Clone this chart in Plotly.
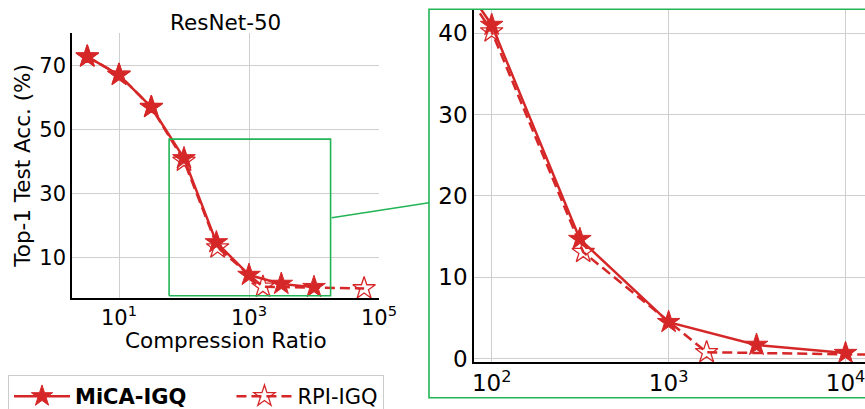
import plotly.graph_objects as go

# ---- data ----
mica_x = [3.25, 10, 31.4, 100, 315, 1000, 3140, 10000]
mica_y = [72.8, 67.1, 57.0, 41.0, 14.7, 4.5, 1.7, 0.7]
rpi_x = [3.25, 10, 31.4, 100, 329, 1640, 59000]
rpi_y = [72.8, 67.1, 57.0, 40.2, 13.1, 0.8, 0.3]

left_xticks = [10, 1000, 100000]
left_xtext = ["10<sup>1</sup>", "10<sup>3</sup>", "10<sup>5</sup>"]
left_yticks = [10, 30, 50, 70]
right_xticks = [100, 1000, 10000]
right_xtext = ["10<sup>2</sup>", "10<sup>3</sup>", "10<sup>4</sup>"]
right_yticks = [0, 10, 20, 30, 40]

zoom_box_x = [59, 18000, 18000, 59, 59]
zoom_box_y = [-2, -2, 47, 47, -2]

RED = "#d62728"
GREEN = "#22b455"
GRID = "#cfcfcf"
FONT = "DejaVu Sans"
W, H = 865, 409
NBSP = "\u00a0"

fig = go.Figure()

for xa, ya, show in [("x", "y", True), ("x2", "y2", False)]:
    fig.add_trace(go.Scatter(
        x=rpi_x, y=rpi_y, mode="lines+markers", name="RPI-IGQ",
        line=dict(color=RED, width=2.5, dash="10px,5px"),
        marker=dict(symbol="star-open", size=17, color=RED, line=dict(width=1.3, color=RED)),
        xaxis=xa, yaxis=ya, showlegend=show, legendrank=2))
    fig.add_trace(go.Scatter(
        x=mica_x, y=mica_y, mode="lines+markers", name="<b>MiCA-IGQ</b>" + NBSP * 6,
        line=dict(color=RED, width=2.5),
        marker=dict(symbol="star", size=17, color=RED, line=dict(width=1, color=RED)),
        xaxis=xa, yaxis=ya, showlegend=show, legendrank=1))

# zoom rectangle on the main axes
fig.add_trace(go.Scatter(
    x=zoom_box_x, y=zoom_box_y, mode="lines", line=dict(color=GREEN, width=1.6),
    xaxis="x", yaxis="y", showlegend=False, hoverinfo="skip"))

def px_x(p):
    return p / W

def px_y(p):
    return 1 - p / H

axis_common = dict(showline=True, linecolor="black", linewidth=1.5, mirror=False,
                   showgrid=True, gridcolor=GRID, gridwidth=1.2, zeroline=False,
                   ticks="", ticklabeloverflow="allow",
                   tickfont=dict(family=FONT, size=21, color="black"))
right_font = dict(family=FONT, size=23, color="black")

fig.update_layout(
    width=W, height=H,
    margin=dict(l=0, r=0, t=0, b=0, autoexpand=False),
    paper_bgcolor="white", plot_bgcolor="white",
    font=dict(family=FONT, color="black"),
    xaxis=dict(type="log", domain=[px_x(72), px_x(379)], range=[0.277, 5.0],
               tickmode="array", tickvals=left_xticks, ticktext=left_xtext,
               anchor="y", **axis_common),
    yaxis=dict(domain=[px_y(298), px_y(33)], range=[-2.7, 80.2],
               tickmode="array", tickvals=left_yticks, anchor="x", **axis_common),
    xaxis2=dict(type="log", domain=[px_x(474), 1.0], range=[1.9, 4.11],
                tickmode="array", tickvals=right_xticks, ticktext=right_xtext,
                anchor="y2", **{**axis_common, "tickfont": right_font}),
    yaxis2=dict(domain=[px_y(362), px_y(9.5)], range=[-0.4, 42.9],
                tickmode="array", tickvals=right_yticks, anchor="x2",
                **{**axis_common, "tickfont": right_font}),
    legend=dict(orientation="h", x=px_x(8), y=px_y(375), xanchor="left", yanchor="top",
                bordercolor="#cccccc", borderwidth=1, bgcolor="white",
                font=dict(family=FONT, size=21, color="black"),
                itemwidth=56),
    showlegend=True,
    shapes=[
        dict(type="rect", xref="paper", yref="paper",
             x0=px_x(429), x1=1.01, y0=px_y(397.7), y1=px_y(9.3),
             line=dict(color=GREEN, width=1.6), fillcolor="rgba(0,0,0,0)", layer="above"),
        dict(type="line", xref="paper", yref="paper",
             x0=px_x(331.7), y0=px_y(217.7), x1=px_x(429), y1=px_y(202.7),
             line=dict(color=GREEN, width=1.6)),
    ],
    annotations=[
        dict(text="ResNet-50", xref="paper", yref="paper", x=px_x(225.7), y=px_y(22),
             xanchor="center", yanchor="middle", showarrow=False,
             font=dict(family=FONT, size=21.5, color="black")),
        dict(text="Compression Ratio", xref="paper", yref="paper", x=px_x(225.7), y=px_y(340),
             xanchor="center", yanchor="middle", showarrow=False,
             font=dict(family=FONT, size=21.5, color="black")),
        dict(text="Top-1 Test Acc. (%)", xref="paper", yref="paper", x=px_x(21.7), y=px_y(166),
             xanchor="center", yanchor="middle", showarrow=False, textangle=-90,
             font=dict(family=FONT, size=21.5, color="black")),
    ],
)

fig.write_html("out.html", config={"displayModeBar": False},
               post_script="document.body.style.margin='0';document.body.style.overflow='hidden';")
